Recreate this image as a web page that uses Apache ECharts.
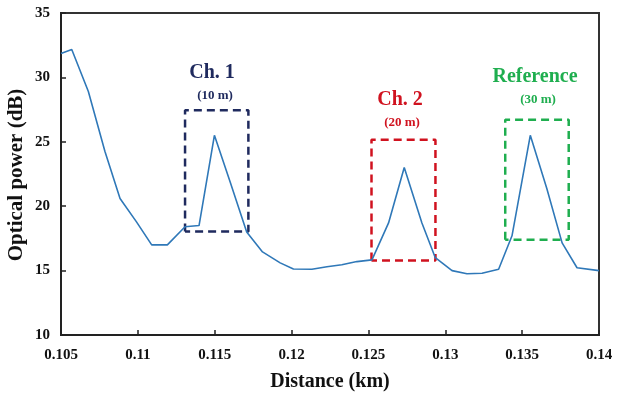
<!DOCTYPE html>
<html>
<head>
<meta charset="utf-8">
<script src="https://cdn.jsdelivr.net/npm/echarts@6/dist/echarts.min.js"></script>
<style>
  html, body { margin: 0; padding: 0; background: #fff; }
  #chart { width: 620px; height: 401px; }
</style>
</head>
<body>
<div id="chart"></div>
<script>
// ---- data ----
var distanceKm = [0.105, 0.1057, 0.10678, 0.10786, 0.10884, 0.1099, 0.1109, 0.11192, 0.11307, 0.11398,
  0.11498, 0.116, 0.11708, 0.11811, 0.11926, 0.12012, 0.12132, 0.1223, 0.12327, 0.12425,
  0.12523, 0.12631, 0.12733, 0.12848, 0.12935, 0.13044, 0.13141, 0.13239, 0.13347, 0.13434,
  0.13553, 0.1366, 0.1376, 0.13857, 0.14];
var powerDb = [31.85, 32.16, 28.9, 24.25, 20.6, 18.8, 17.0, 17.0, 18.4, 18.5,
  25.5, 21.9, 18.0, 16.45, 15.6, 15.13, 15.1, 15.3, 15.45, 15.7,
  15.83, 18.7, 23.0, 18.7, 16.0, 15.0, 14.75, 14.8, 15.1, 17.7,
  25.5, 21.4, 17.15, 15.22, 15.0];

// boxes: [xMin, xMax, yMin, yMax]
var ch1Box = [0.11307, 0.11719, 18.03, 27.44];
var ch2Box = [0.1252, 0.12936, 15.78, 25.16];
var refBox = [0.1339, 0.13803, 17.39, 26.72];

var boxTitles = ['Ch. 1', 'Ch. 2', 'Reference'];
var boxLengths = ['(10 m)', '(20 m)', '(30 m)'];

var xTicks = [0.105, 0.11, 0.115, 0.12, 0.125, 0.13, 0.135, 0.14];
var yTicks = [10, 15, 20, 25, 30, 35];

// ---- build ----
function boxPath(b) {
  return [[b[0], b[2]], [b[0], b[3]], [b[1], b[3]], [b[1], b[2]], [b[0], b[2]]];
}
var line = [];
for (var i = 0; i < distanceKm.length; i++) line.push([distanceKm[i], powerDb[i]]);

var navy = '#1f2a5e', red = '#d0121f', green = '#1fae4f';
var serif = '"Liberation Serif", "Times New Roman", serif';

function boxSeries(b, color) {
  return {
    type: 'line', data: boxPath(b), symbol: 'none', silent: true, z: 3,
    lineStyle: { color: color, width: 2.5, type: [8, 5] }
  };
}

var chart = echarts.init(document.getElementById('chart'), null, { renderer: 'canvas' });
var fmt = function (v) { return String(+v.toFixed(3)); };

chart.setOption({
  animation: false,
  backgroundColor: '#ffffff',
  grid: { left: 61, right: 21, top: 13, bottom: 66, show: true, borderColor: '#333', borderWidth: 2,
    containLabel: false, outerBoundsMode: 'none' },
  xAxis: {
    type: 'value', min: xTicks[0], max: xTicks[xTicks.length - 1], interval: 0.005,
    name: 'Distance (km)', nameLocation: 'middle', nameGap: 37,
    nameTextStyle: { fontFamily: serif, fontWeight: 'bold', fontSize: 20, color: '#111' },
    axisLine: { lineStyle: { color: '#222', width: 2 } },
    axisTick: { inside: true, length: 5, lineStyle: { color: '#222', width: 1.5 } },
    axisLabel: { formatter: fmt, fontFamily: serif, fontWeight: 'bold', fontSize: 15, color: '#111', margin: 13 },
    splitLine: { show: false }
  },
  yAxis: {
    type: 'value', min: yTicks[0], max: yTicks[yTicks.length - 1], interval: 5,
    axisLine: { lineStyle: { color: '#222', width: 2 } },
    axisTick: { inside: true, length: 5, lineStyle: { color: '#222', width: 1.5 } },
    axisLabel: { fontFamily: serif, fontWeight: 'bold', fontSize: 15, color: '#111', margin: 11 },
    splitLine: { show: false }
  },
  series: [
    {
      type: 'line', data: line, symbol: 'none', z: 4,
      lineStyle: { color: '#2f78b8', width: 1.6 }
    },
    boxSeries(ch1Box, navy),
    boxSeries(ch2Box, red),
    boxSeries(refBox, green)
  ],
  graphic: [
    { type: 'text', x: 17, y: 175, rotation: Math.PI / 2, style: { text: 'Optical power (dB)', fill: '#111', font: 'bold 21px ' + serif, align: 'center', verticalAlign: 'middle' } },
    { type: 'text', x: 212, y: 73, style: { text: boxTitles[0], fill: navy, font: 'bold 20px ' + serif, align: 'center', verticalAlign: 'middle' } },
    { type: 'text', x: 215, y: 96, style: { text: boxLengths[0], fill: navy, font: 'bold 13px ' + serif, align: 'center', verticalAlign: 'middle' } },
    { type: 'text', x: 400, y: 100, style: { text: boxTitles[1], fill: red, font: 'bold 20px ' + serif, align: 'center', verticalAlign: 'middle' } },
    { type: 'text', x: 402, y: 123, style: { text: boxLengths[1], fill: red, font: 'bold 13px ' + serif, align: 'center', verticalAlign: 'middle' } },
    { type: 'text', x: 535, y: 77, style: { text: boxTitles[2], fill: green, font: 'bold 20px ' + serif, align: 'center', verticalAlign: 'middle' } },
    { type: 'text', x: 538, y: 100, style: { text: boxLengths[2], fill: green, font: 'bold 13px ' + serif, align: 'center', verticalAlign: 'middle' } }
  ]
});
</script>
</body>
</html>
